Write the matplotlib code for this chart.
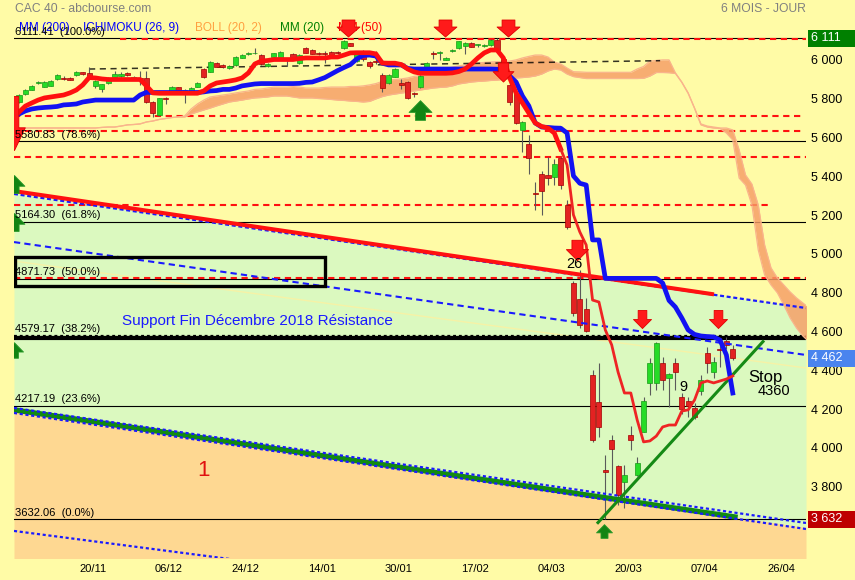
import numpy as np
import matplotlib
matplotlib.use('Agg')
import matplotlib.pyplot as plt
from matplotlib.path import Path
from matplotlib.markers import MarkerStyle
from matplotlib.patches import Rectangle
import matplotlib.transforms as mtransforms

plt.rcParams['font.family'] = ['Liberation Sans', 'DejaVu Sans']

# ---------------- data ----------------
date_labels = ['20/11', '06/12', '24/12', '14/01', '30/01', '17/02', '04/03', '20/03', '07/04', '26/04']
date_bars = [12, 24, 36, 48, 60, 72, 84, 96, 108, 120]

opens = [5784, 5823, 5845, 5883, 5862, 5867, 5900, 5908, 5905, 5922,
         5936, 5934, 5867, 5850, 5879, 5914, 5917, 5934, 5905, 5906,
         5905, 5784, 5716, 5805, 5836, 5859, 5836, 5836, 5862, 5952,
         5939, 5986, 5974, 5957, 5974, 6012, 6031, 6034, 6026, 5969,
         6014, 6003, 6003, 6031, 5983, 6060, 6051, 6034, 6035, 6043,
         6039, 6060, 6086, 5995, 6040, 5988, 5995, 5922, 5879, 5914,
         5879, 5888, 5830, 5859, 5931, 6038, 6036, 6000, 6045, 6060,
         6072, 6089, 6077, 6072, 6077, 6103, 6005, 5871, 5828, 5641,
         5569, 5313, 5413, 5407, 5396, 5494, 5252, 4848, 4766, 4715,
         4376, 4238, 3885, 4040, 3907, 3826, 4066, 3860, 4083, 4336,
         4333, 4436, 4359, 4436, 4264, 4243, 4204, 4295, 4488, 4393,
         4512, 4549, 4510]
closes = [5819, 5845, 5867, 5885, 5885, 5893, 5922, 5900, 5897, 5939,
          5927, 5905, 5891, 5874, 5905, 5926, 5927, 5922, 5914, 5904,
          5784, 5724, 5802, 5797, 5862, 5836, 5845, 5854, 5883, 5914,
          5991, 5965, 5962, 5969, 6017, 6026, 6032, 6035, 5979, 5979,
          6034, 6040, 6004, 6009, 6026, 6038, 6031, 6028, 6033, 6026,
          6037, 6098, 6074, 6035, 6005, 5969, 5990, 5854, 5922, 5952,
          5871, 5802, 5826, 5917, 5983, 6031, 6037, 6009, 6051, 6095,
          6086, 6069, 6077, 6072, 6103, 6051, 5945, 5784, 5673, 5681,
          5492, 5309, 5326, 5390, 5463, 5356, 5140, 4693, 4633, 4605,
          4040, 4109, 3877, 3992, 3757, 3860, 4040, 3921, 4243, 4436,
          4539, 4350, 4381, 4393, 4199, 4216, 4161, 4350, 4436, 4441,
          4506, 4531, 4462]
highs = [5825, 5850, 5870, 5893, 5890, 5898, 5926, 5915, 5910, 5943,
         5940, 5965, 5895, 5878, 5910, 5943, 5940, 5938, 5918, 5943,
         5943, 5788, 5806, 5808, 5866, 5862, 5850, 5858, 5888, 5957,
         5995, 5990, 5978, 5972, 6020, 6030, 6040, 6062, 6030, 5983,
         6038, 6045, 6010, 6035, 6030, 6064, 6055, 6040, 6045, 6046,
         6046, 6101, 6089, 6045, 6050, 5995, 6045, 5933, 5926, 5956,
         5900, 5892, 5836, 5921, 5987, 6046, 6046, 6013, 6055, 6099,
         6090, 6093, 6084, 6080, 6107, 6111, 6010, 5888, 5832, 5685,
         5612, 5373, 5425, 5502, 5487, 5500, 5280, 4860, 4917, 4772,
         4402, 4436, 3962, 4066, 3911, 3911, 4112, 3955, 4264, 4462,
         4548, 4470, 4384, 4462, 4283, 4264, 4230, 4376, 4522, 4470,
         4543, 4570, 4530]
lows = [5777, 5820, 5843, 5877, 5858, 5864, 5897, 5895, 5894, 5919,
        5924, 5902, 5857, 5833, 5876, 5911, 5914, 5919, 5902, 5871,
        5780, 5707, 5712, 5772, 5832, 5833, 5779, 5833, 5859, 5908,
        5936, 5962, 5958, 5954, 5970, 6009, 6024, 6030, 5975, 5966,
        6011, 5999, 5968, 6006, 5978, 6034, 6028, 6024, 5984, 6022,
        6030, 6056, 6070, 5990, 5995, 5960, 5980, 5834, 5875, 5910,
        5848, 5798, 5808, 5855, 5927, 6005, 6000, 5997, 6042, 6057,
        6031, 6066, 6068, 6064, 6074, 6047, 5940, 5765, 5668, 5526,
        5414, 5227, 5201, 5356, 5356, 5335, 5126, 4680, 4618, 4600,
        4031, 4057, 3632, 3765, 3705, 3690, 3990, 3855, 4083, 4273,
        4296, 4296, 4212, 4296, 4175, 4160, 4150, 4275, 4384, 4358,
        4415, 4510, 4455]

# ichimoku lines (red = tenkan, blue = kijun)
tenkan = [5731, 5762, 5778, 5793, 5804, 5809, 5814, 5819, 5830, 5845,
          5871, 5909, 5907, 5902, 5899, 5899, 5899, 5899, 5899, 5899,
          5866, 5830, 5828, 5828, 5828, 5828, 5828, 5828, 5828, 5840,
          5866, 5881, 5886, 5891, 5897, 5907, 5933, 5979, 5994, 5997,
          6002, 6002, 6002, 6002, 6007, 6010, 6010, 6010, 6010, 6015,
          6015, 6025, 6036, 6037, 6037, 6037, 6031, 5984, 5983, 5983,
          5976, 5953, 5938, 5931, 5931, 5931, 5931, 5931, 5933, 5940,
          5953, 5979, 6010, 6036, 6051, 6051, 6010, 5907, 5830, 5778,
          5726, 5675, 5657, 5649, 5623, 5541, 5458, 5201, 5113, 5046,
          4762, 4752, 4608, 4531, 4391, 4283, 4283, 4144, 4031, 4036,
          4061, 4108, 4118, 4118, 4190, 4196, 4247, 4335, 4345, 4335,
          4345, 4355, 4371]
kijun = [5721, 5737, 5747, 5752, 5755, 5757, 5760, 5768, 5770, 5773,
         5783, 5788, 5793, 5793, 5793, 5793, 5793, 5793, 5793, 5819,
         5833, 5832, 5832, 5832, 5832, 5832, 5832, 5832, 5832, 5835,
         5840, 5842, 5848, 5848, 5855, 5866, 5871, 5876, 5878, 5878,
         5878, 5878, 5878, 5878, 5879, 5884, 5886, 5897, 5909, 5927,
         5945, 5961, 5976, 6005, 6023, 6025, 6020, 5983, 5974, 5974,
         5974, 5956, 5953, 5953, 5953, 5953, 5953, 5953, 5953, 5953,
         5953, 5953, 5953, 5953, 5953, 5952, 5943, 5917, 5886, 5814,
         5763, 5675, 5654, 5652, 5649, 5648, 5623, 5402, 5364, 5355,
         5072, 5072, 4874, 4874, 4874, 4874, 4874, 4874, 4874, 4874,
         4874, 4850, 4760, 4726, 4670, 4608, 4585, 4577, 4574, 4572,
         4556, 4479, 4283]

# ichimoku cloud (projected 26 bars ahead)
cloud_a = [5649, 5649, 5649, 5649, 5649, 5649, 5649, 5649, 5649, 5649,
           5649, 5649, 5649, 5652, 5654, 5654, 5659, 5665, 5667, 5670,
           5680, 5685, 5693, 5698, 5703, 5706,
           5711, 5747, 5773, 5793, 5809, 5814, 5819, 5824, 5830, 5835,
           5840, 5848, 5850, 5855, 5860, 5860, 5860, 5863, 5860, 5855,
           5855, 5855, 5858, 5860, 5860, 5860, 5863, 5863, 5866, 5871,
           5878, 5889, 5897, 5899, 5902, 5907, 5915, 5920, 5927, 5938,
           5948, 5956, 5963, 5969, 5974, 5979, 5984, 5987, 5989, 5991,
           5992, 5994, 6000, 6010, 6018, 6025, 6025, 6015, 5989, 5979,
           5958, 5939, 5938, 5936, 5936, 5936, 5936, 5936, 5936, 5936,
           5936, 5953, 5966, 5994, 5997, 6000, 6000, 5933, 5886, 5830,
           5752, 5670, 5659, 5654, 5649, 5649, 5639, 5536, 5407, 5360,
           5252, 5046, 4928, 4876, 4840, 4804, 4773, 4747, 4721]
cloud_b = [5649, 5649, 5649, 5649, 5649, 5649, 5649, 5649, 5649, 5649,
           5649, 5649, 5649, 5652, 5654, 5654, 5659, 5665, 5667, 5670,
           5680, 5685, 5693, 5698, 5703, 5706,
           5706, 5721, 5732, 5742, 5752, 5763, 5773, 5783, 5788, 5793,
           5799, 5804, 5806, 5809, 5814, 5814, 5814, 5809, 5804, 5804,
           5804, 5801, 5799, 5796, 5793, 5791, 5788, 5786, 5783, 5786,
           5799, 5811, 5819, 5824, 5829, 5834, 5840, 5845, 5850, 5855,
           5858, 5860, 5866, 5876, 5881, 5886, 5889, 5891, 5894, 5896,
           5899, 5904, 5907, 5909, 5912, 5917, 5927, 5943, 5953, 5948,
           5927, 5914, 5909, 5904, 5904, 5904, 5904, 5904, 5904, 5904,
           5904, 5904, 5905, 5917, 5935, 5935, 5934, 5930, 5884, 5827,
           5750, 5665, 5654, 5649, 5647, 5623, 5587, 5391, 5355, 5252,
           5020, 4891, 4840, 4799, 4737, 4670, 4618, 4577, 4546]

# fibonacci retracement
fib_prices = [6111.41, 5580.83, 5164.30, 4871.73, 4579.17, 4217.19, 3632.06]
fib_pcts = ['100.0%', '78.6%', '61.8%', '50.0%', '38.2%', '23.6%', '0.0%']

# red dashed resistance levels (price, first bar, last bar)
res_prices = [6106, 5712, 5635, 5498, 5252, 4877]
res_start = [15.9, -0.8, -0.8, -0.8, -0.8, -0.8]
res_end = [123.5, 123.0, 123.0, 123.5, 117.5, 123.5]

support_price = 4566          # thick black "support / resistance"
old_top_bars = [11.0, 100.6]  # dashed black line
old_top_prices = [5953, 5996]

# trend lines: (bars, prices)
upper_red_bars, upper_red_prices = [-0.785, 108.74], [5324, 4793]
upper_blue_bars, upper_blue_prices = [-0.785, 123.49], [5309, 4721]
mid_blue_bars, mid_blue_prices = [-0.785, 123.49], [5061, 4479]
lower_green_bars, lower_green_prices = [-0.785, 112.35], [4196, 3644]
lower_dot1_bars, lower_dot1_prices = [-0.785, 123.49], [4206, 3613]
lower_dot2_bars, lower_dot2_prices = [-0.785, 123.49], [4180, 3582]
bottom_dot_bars, bottom_dot_prices = [-0.785, 123.49], [3572, 3041]
faint_bars, faint_prices = [-0.785, 123.49], [4963, 4412]
rise_bars, rise_prices = [90.85, 116.74], [3615, 4548]

box_bars, box_prices = [-0.7, 48.0], [4835, 4984]

# signals
sell_bars = [51.7, 66.8, 76.8, 75.95, 87.6, 97.7, 109.7]
sell_prices = [6162, 6162, 6162, 5938, 5020, 4662, 4662]
edge_sell_bar, edge_sell_price = -0.785, 5677
buy_bars = [62.9, 91.8, -0.785, -0.785, -0.785]
buy_prices = [5742, 3572, 5360, 5164, 4505]

# ---------------- figure ----------------
W, H = 855, 580
YELLOW = '#FFFBA6'
fig = plt.figure(figsize=(W / 100, H / 100), dpi=100, facecolor=YELLOW)
ax = fig.add_axes([14 / W, 1 - 558 / H, 792 / W, 540 / H])
ax.set_facecolor(YELLOW)
ax.set_xlim(-0.785, 123.49)
ax.set_ylim(3432.5, 6216)
for s in ax.spines.values():
    s.set_visible(False)


def extend(bars, prices, x):
    k = (prices[1] - prices[0]) / (bars[1] - bars[0])
    return prices[0] + k * (np.asarray(x, dtype=float) - bars[0])


xs = np.array(ax.get_xlim())
top = extend(upper_red_bars, upper_red_prices, xs)
bot = extend(lower_green_bars, lower_green_prices, xs)
ax.fill_between(xs, top, bot, color='#DBF9BF', lw=0, zorder=0.3)
ax.fill_between(xs, bot, 3000, color='#FED892', lw=0, zorder=0.3)
ax.plot(faint_bars, faint_prices, color='#F6F2A6', lw=1, zorder=0.6)

# fibonacci lines + labels
for p, pct in zip(fib_prices, fib_pcts):
    ax.axhline(p, color='black', lw=0.8, zorder=1)
    ax.text(-0.7, p + 8, f'{p:.2f}  ({pct})', fontsize=8, va='bottom', ha='left', zorder=7)

# red dashed levels
for p, a, b in zip(res_prices, res_start, res_end):
    ax.plot([a, b], [p, p], color='#FF1010', lw=1.5, ls=(0, (3, 2.2)), zorder=1.2)

# support line
ax.axhline(support_price, color='black', lw=3, zorder=1.3)
ax.axhline(fib_prices[4], color='black', lw=1.6, ls=(0, (1.3, 1.3)), zorder=1.3)

# ichimoku cloud
cidx = np.arange(len(cloud_a))
ax.fill_between(cidx, cloud_a, cloud_b, color='#F69C66', alpha=0.82, lw=0, zorder=2)
ax.plot(cidx, cloud_a, color='#F9B48C', lw=0.9, zorder=2)
ax.plot(cidx, cloud_b, color='#F9B48C', lw=0.9, zorder=2)
ax.plot(old_top_bars, old_top_prices, color='black', lw=1.1, ls=(0, (4, 3)), zorder=2.5, alpha=0.8)

# candles
idx = np.arange(len(opens))
o = np.array(opens, float)
c = np.array(closes, float)
up = c >= o
ax.vlines(idx, lows, highs, color='#5A5A5A', lw=0.8, zorder=3)
lo = np.minimum(o, c)
hgt = np.maximum(np.abs(c - o), 4)
ax.bar(idx[up], hgt[up], bottom=lo[up], width=0.8, color='#26DC26', edgecolor='#179A17', lw=0.5, zorder=3.1)
ax.bar(idx[~up], hgt[~up], bottom=lo[~up], width=0.8, color='#E32222', edgecolor='#A50000', lw=0.5, zorder=3.1)

# trend lines
ax.plot(upper_blue_bars, upper_blue_prices, color='#1A1AFF', lw=1.6, ls=(0, (1.8, 1.2)), zorder=3.5)
ax.plot(upper_red_bars, upper_red_prices, color='#FF1010', lw=2.9, zorder=3.6)
ax.plot(mid_blue_bars, mid_blue_prices, color='#1A1AFF', lw=1.5, ls=(0, (3, 2)), zorder=3.5)
ax.plot(lower_green_bars, lower_green_prices, color='#118A11', lw=3.8, zorder=3.6)
ax.plot(lower_dot1_bars, lower_dot1_prices, color='#1A1AFF', lw=1.6, ls=(0, (1.4, 1.2)), zorder=3.7)
ax.plot(lower_dot2_bars, lower_dot2_prices, color='#1A1AFF', lw=1.6, ls=(0, (1.4, 1.2)), zorder=3.7)
ax.plot(bottom_dot_bars, bottom_dot_prices, color='#1A1AFF', lw=1.6, ls=(0, (1.4, 1.2)), zorder=3.7)
ax.plot(rise_bars, rise_prices, color='#158A15', lw=2.2, zorder=3.8)

# black box
ax.add_patch(Rectangle((box_bars[0], box_prices[0]), box_bars[1] - box_bars[0],
                       box_prices[1] - box_prices[0], fill=False, ec='black', lw=2.4, zorder=3.9))

# ichimoku lines
ax.plot(idx, kijun, color='#1212F2', lw=3.4, zorder=4.8, solid_joinstyle='round')
ax.plot(idx[:86], tenkan[:86], color='#FF1010', lw=3.4, zorder=5, solid_joinstyle='round')
ax.plot(idx[85:], tenkan[85:], color='#EE2424', lw=2.0, zorder=5, solid_joinstyle='round')


# arrows
def arrow(direction, half_h, base, shaft):
    if direction == 'down':
        v = [(-shaft, half_h), (shaft, half_h), (shaft, base), (0.5, base), (0, -half_h),
             (-0.5, base), (-shaft, base), (-shaft, half_h)]
    else:
        v = [(-shaft, -half_h), (shaft, -half_h), (shaft, -base), (0.5, -base), (0, half_h),
             (-0.5, -base), (-shaft, -base), (-shaft, -half_h)]
    return MarkerStyle(Path(v, closed=True))


top_arrow = arrow('down', 0.37, 0.065, 0.28)
mid_arrow = arrow('down', 0.46, 0.04, 0.25)
small_arrow = arrow('down', 0.5, 0.0, 0.24)
sell_styles = [(top_arrow, 16.5), (top_arrow, 16.5), (top_arrow, 16.5), (mid_arrow, 15),
               (mid_arrow, 16), (small_arrow, 13), (small_arrow, 13)]
for b, p, (m, sz) in zip(sell_bars, sell_prices, sell_styles):
    ax.plot(b, p, marker=m, ms=sz, color='#FF1A1A', mec='#E00000', mew=0.6, ls='none', zorder=6)

# tall arrow clipped on the left edge
tall_arrow = arrow('down', 1.25, -0.2, 0.2)
ax.plot(edge_sell_bar, edge_sell_price, marker=tall_arrow, ms=39, color='#FF1A1A', mec='#E00000',
        mew=0.6, ls='none', zorder=6)

buy_arrow = arrow('up', 0.43, 0.085, 0.22)
buy_sizes = [16.5, 11.5, 15, 15, 13]
for b, p, sz in zip(buy_bars, buy_prices, buy_sizes):
    ax.plot(b, p, marker=buy_arrow, ms=sz, color='#138413', mec='#2A9A2A', mew=0.6, ls='none', zorder=6)

# annotations
ax.text(16.2, 4654, 'Support Fin Décembre 2018 Résistance', color='#1A1AFF', fontsize=11,
        va='center', ha='left', zorder=7)
ax.text(87.2, 4948, '26', fontsize=10.5, va='center', ha='center', zorder=7)
ax.text(104.3, 4314, '9', fontsize=10.5, va='center', ha='center', zorder=7)
ax.text(114.5, 4363, 'Stop', fontsize=12, va='center', ha='left', zorder=7)
ax.text(115.9, 4293, '4360', fontsize=10.5, va='center', ha='left', zorder=7)
ax.text(29.0, 3881, '1', color='#E01010', fontsize=16, va='center', ha='center', zorder=7)

# legend row
legend_items = [('MM (200)', '#0000FF', 19), ('ICHIMOKU (26, 9)', '#0000FF', 83),
                ('BOLL (20, 2)', '#FFA040', 195), ('MM (20)', '#008000', 280), ('MM (50)', '#FF0000', 338)]
for txt, col, xp in legend_items:
    ax.text(xp / W, 1 - 28 / H, txt, color=col, fontsize=8.5, va='center', ha='left',
            transform=fig.transFigure, zorder=5.5)

fig.text(15 / W, 1 - 9 / H, 'CAC 40 - abcbourse.com', color='#808080', fontsize=8.7, va='center', ha='left')
fig.text(806 / W, 1 - 9 / H, '6 MOIS - JOUR', color='#808080', fontsize=8.7, va='center', ha='right')

# axes ticks
ax.set_xticks([b - 0.45 for b in date_bars])
ax.set_xticklabels(date_labels, fontsize=8)
yt = list(range(3800, 6001, 200))
ax.set_yticks(yt)
ax.set_yticklabels([f'{v:,}'.replace(',', ' ') for v in yt], fontsize=9)
ax.yaxis.tick_right()
ax.tick_params(axis='both', length=0)
ax.tick_params(axis='y', pad=3.4)
ax.tick_params(axis='x', pad=4)

# price boxes on the right
trans = mtransforms.blended_transform_factory(fig.transFigure, ax.transData)
ylo, yhi = ax.get_ylim()
ppx = (yhi - ylo) / 540
box_values = [fib_prices[0], closes[-1], fib_prices[-1]]
box_colors = ['#008000', '#4A84EE', '#BE0000']
for v, col in zip(box_values, box_colors):
    fig.add_artist(Rectangle((808 / W, v - 8.5 * ppx), 47 / W, 17 * ppx, transform=trans,
                             facecolor=col, lw=0, zorder=5))
    fig.text(811 / W, v, f'{round(v):,}'.replace(',', ' '), transform=trans, color='white',
             fontsize=9, va='center', ha='left', zorder=6)

fig.savefig('out.png', dpi=100, facecolor=YELLOW)
